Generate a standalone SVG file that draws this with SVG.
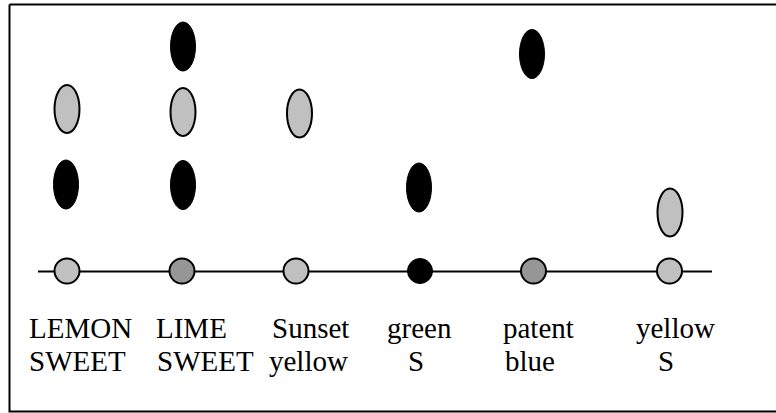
<svg xmlns="http://www.w3.org/2000/svg" width="776" height="413" viewBox="0 0 776 413">
<style>
.lt{fill:#c0c0c0;stroke:#000;stroke-width:2}
.md{fill:#969696;stroke:#000;stroke-width:2}
.bk{fill:#000;stroke:#000;stroke-width:1}
text{font-family:"Liberation Serif",Tinos,"Times New Roman",Times,"Nimbus Roman","Noto Serif",FreeSerif,"DejaVu Serif",serif;font-size:29px;fill:#000}
</style>
<rect width="776" height="413" fill="#fff"/>
<path d="M9.5 4.5 H780 M9.5 4.5 V411.5 H780" fill="none" stroke="#000" stroke-width="2"/>
<g id="connectors">
<line x1="38" y1="271.5" x2="712" y2="271.5" stroke="#000" stroke-width="2"/>
</g>
<g id="lemon-sweet">
<ellipse class="lt" cx="67" cy="109" rx="12.5" ry="24"/>
<ellipse class="bk" cx="66" cy="184.5" rx="12.5" ry="24.5"/>
<circle class="lt" cx="67" cy="271" r="12.5"/>
<text x="29" y="338">LEMON</text>
<text x="29" y="370.5">SWEET</text>
</g>
<g id="lime-sweet">
<ellipse class="bk" cx="183" cy="46.5" rx="12.5" ry="24.5"/>
<ellipse class="lt" cx="183" cy="112" rx="12.5" ry="24"/>
<ellipse class="bk" cx="183" cy="185" rx="12.5" ry="24.5"/>
<circle class="md" cx="182" cy="271" r="12.5"/>
<text x="156" y="338">LIME</text>
<text x="157" y="370.5">SWEET</text>
</g>
<g id="sunset-yellow">
<ellipse class="lt" cx="299.5" cy="113.5" rx="12.5" ry="24"/>
<circle class="lt" cx="296" cy="271" r="12.5"/>
<text x="272" y="338">Sunset</text>
<text x="269" y="370.5">yellow</text>
</g>
<g id="green-s">
<ellipse class="bk" cx="419" cy="187.5" rx="12.5" ry="24.5"/>
<circle class="bk" cx="420" cy="271" r="12.5"/>
<text x="387" y="338">green</text>
<text x="408" y="370.5">S</text>
</g>
<g id="patent-blue">
<ellipse class="bk" cx="532" cy="54" rx="12.5" ry="24.5"/>
<circle class="md" cx="533.5" cy="271" r="12.5"/>
<text x="503" y="338">patent</text>
<text x="505" y="370.5">blue</text>
</g>
<g id="yellow-s">
<ellipse class="lt" cx="670" cy="212.5" rx="12.5" ry="24"/>
<circle class="lt" cx="669.5" cy="271" r="12.5"/>
<text x="636" y="338">yellow</text>
<text x="658" y="370.5">S</text>
</g>
</svg>
